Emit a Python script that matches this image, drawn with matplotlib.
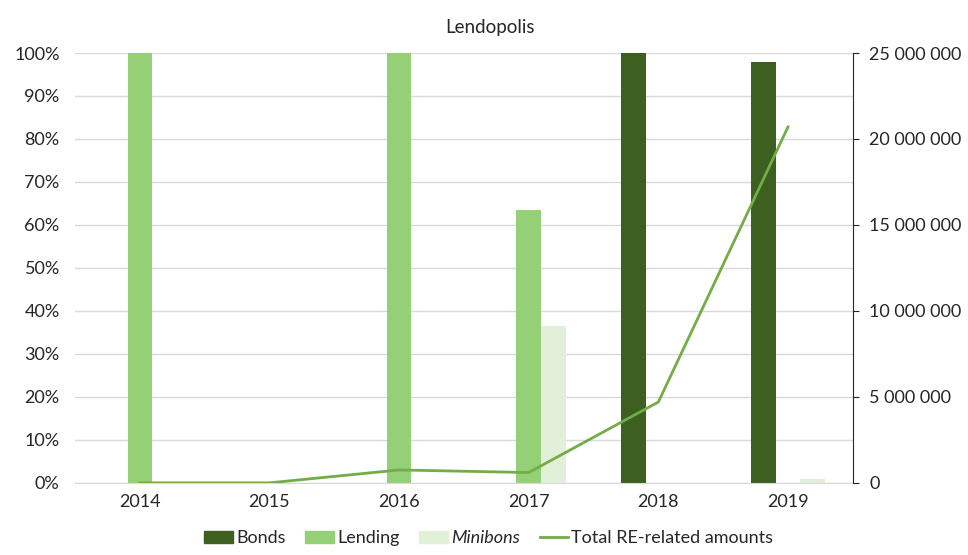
import numpy as np
import matplotlib.pyplot as plt
from matplotlib.ticker import FuncFormatter, MultipleLocator
from matplotlib.patches import Patch
from matplotlib.lines import Line2D

plt.rcParams['font.family'] = ['Lato', 'DejaVu Sans']

years = ['2014', '2015', '2016', '2017', '2018', '2019']
bonds = [0, 0, 0, 0, 100, 98]
lending = [100, 0, 100, 63.5, 0, 0]
minibons = [0, 0, 0, 36.5, 0, 1]
total_re = [0, 0, 750000, 600000, 4700000, 20700000]

c_bonds = '#3d6020'
c_lending = '#95cf76'
c_minibons = '#e2efd9'
c_line = '#72ad47'

fig = plt.figure(figsize=(9.68, 5.55), dpi=100)
ax = fig.add_axes([0.0775, 0.13, 0.8035, 0.7745])
x = np.arange(len(years))
w = 0.19

ax.bar(x - w, bonds, w, color=c_bonds, zorder=2)
ax.bar(x, lending, w, color=c_lending, zorder=2)
ax.bar(x + w, minibons, w, color=c_minibons, zorder=2)

ax.set_xlim(-0.5, 5.5)
ax.set_ylim(0, 100)
ax.yaxis.set_major_locator(MultipleLocator(10))
ax.yaxis.set_major_formatter(FuncFormatter(lambda v, p: f'{v:.0f}%'))
ax.set_xticks(x)
ax.set_xticklabels(years)
ax.grid(axis='y', color='#d9d9d9', linewidth=1, zorder=0)
ax.set_axisbelow(True)
for s in ['top', 'right', 'left']:
    ax.spines[s].set_visible(False)
ax.spines['bottom'].set_color('#d9d9d9')
ax.tick_params(axis='both', length=0, labelsize=13, colors='#262626')
ax.tick_params(axis='y', pad=11)
ax.tick_params(axis='x', pad=8)

ax2 = ax.twinx()
ax2.plot(x, total_re, color=c_line, linewidth=2, zorder=3)
ax2.set_ylim(0, 25000000)
ax2.yaxis.set_major_locator(MultipleLocator(5000000))
ax2.yaxis.set_major_formatter(FuncFormatter(lambda v, p: f'{v:,.0f}'.replace(',', ' ')))
for s in ['top', 'left', 'bottom']:
    ax2.spines[s].set_visible(False)
ax2.spines['right'].set_color('#262626')
ax2.tick_params(axis='y', length=4, labelsize=13, colors='#262626', pad=8)

fig.text(0.506, 0.95, 'Lendopolis', ha='center', va='center', fontsize=13.5, color='#262626')

handles = [Patch(color=c_bonds), Patch(color=c_lending), Patch(color=c_minibons),
           Line2D([0], [0], color=c_line, linewidth=2)]
labels = ['Bonds', 'Lending', 'Minibons', 'Total RE-related amounts']
leg = fig.legend(handles, labels, loc='center', bbox_to_anchor=(0.505, 0.03), ncol=4,
                 frameon=False, fontsize=13, handlelength=1.6, handleheight=0.6,
                 handletextpad=0.15, columnspacing=1.1)
for t in leg.get_texts():
    t.set_color('#262626')
leg.get_texts()[2].set_style('italic')

fig.savefig('out.png', dpi=100)
